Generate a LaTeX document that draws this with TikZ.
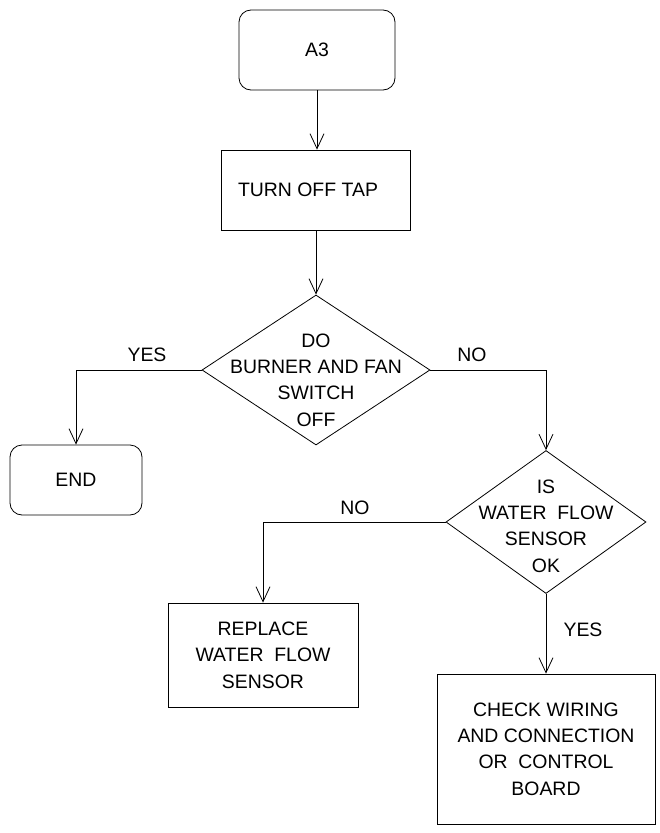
\documentclass[tikz,border=0pt]{standalone}
\usepackage{fontspec}
\setmainfont{Liberation Sans}
\usetikzlibrary{positioning,shapes.geometric,arrows.meta}

\begin{document}
\begin{tikzpicture}[x=1bp, y=-1bp, line width=0.8bp,
		every node/.style={font=\fontsize{19.5}{26.5}\selectfont, align=center},
		termbox/.style={draw, rounded corners=12bp, inner sep=0pt},
		procbox/.style={draw, inner sep=0pt},
		decision/.style={draw, diamond, inner sep=0pt},
		flow/.style={-{Straight Barb[length=15bp,width=14bp]}}]
		\useasboundingbox (0,0) rectangle (660,833);

		% Blocs de la colonne du haut
		\node[termbox, minimum width=156bp, minimum height=80bp] (a3) at (317,50) {A3};
		\node[procbox, minimum width=189bp, minimum height=80bp] (tap) at (316,190) {TURN OFF TAP\hspace*{16bp}};
		\node[decision, minimum width=228bp, minimum height=150bp] (brn) at (316,370) {};
		\node (brntxt) at (316,380) {DO\\BURNER AND FAN\\SWITCH\\OFF};

		% Branche de gauche
		\node[termbox, minimum width=132bp, minimum height=70bp] (end) at (76,480) {END};

		% Branche de droite
		\node[decision, minimum width=200bp, minimum height=143bp] (wfs) at (546,522) {};
		\node (wfstxt) at (546,526) {IS\\WATER~~FLOW\\SENSOR\\OK};
		\node[procbox, minimum width=190bp, minimum height=104bp] (rpl) at (263,655) {REPLACE\\WATER~~FLOW\\SENSOR};
		\node[procbox, minimum width=218bp, minimum height=150bp] (chk) at (546,749) {CHECK WIRING\\AND CONNECTION\\OR~~CONTROL\\BOARD};

		% Liaisons
		\draw[flow] (a3) -- (a3 |- tap.north);
		\draw[flow] (tap) -- (brn);
		\draw[flow] (brn.west) -| (end.north);
		\draw[flow] (brn.east) -| (wfs.north);
		\draw[flow] (wfs.west) -| (rpl.north);
		\draw[flow] (wfs.south) -- (chk.north);

		% Etiquettes des branches
		\node (yes1) at (147,355) {YES};
		\node (no1) at (472,355) {NO};
		\node (no2) at (355,508) {NO};
		\node (yes2) at (583,630) {YES};
	\end{tikzpicture}
\end{document}
